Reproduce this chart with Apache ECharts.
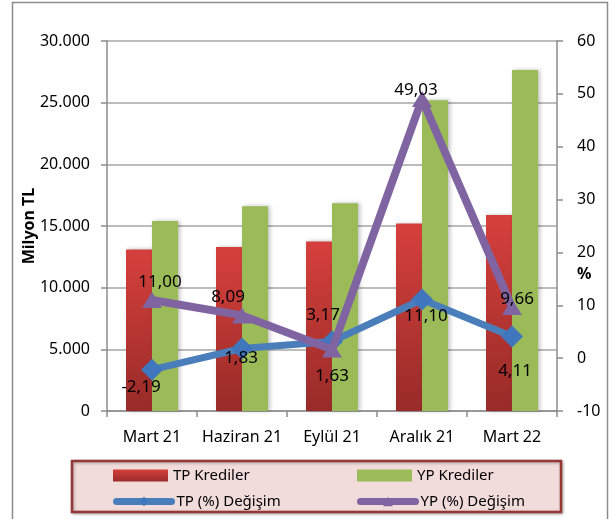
<!DOCTYPE html>
<html>
<head>
<meta charset="utf-8">
<script src="https://cdn.jsdelivr.net/npm/echarts@6/dist/echarts.min.js"></script>
<style>
  html, body { margin: 0; padding: 0; background: #fff; }
  #chart { width: 612px; height: 519px; }
</style>
</head>
<body>
<div id="chart"></div>
<script>
var categories = ["Mart 21", "Haziran 21", "Eylül 21", "Aralık 21", "Mart 22"];
var tpKrediler = [13100, 13300, 13750, 15200, 15900];
var ypKrediler = [15400, 16600, 16850, 25200, 27650];
var tpDegisim = [-2.19, 1.83, 3.17, 11.10, 4.11];
var ypDegisim = [11.00, 8.09, 1.63, 49.03, 9.66];
// label offsets (px) relative to each point
var tpOffsets = [[-11, 17], [-1, 10], [-9, -26], [4, 17], [3, 35]];
var ypOffsets = [[8, -18], [-14, -18], [0, 27], [-6, -9], [5, -8]];

var font = "'Noto Sans', sans-serif";

function fmtThousand(v) {
  return String(v).replace(/\B(?=(\d{3})+(?!\d))/g, ".");
}
function fmtPct(v) {
  return v.toFixed(2).replace(".", ",");
}
function lineData(vals, offs) {
  return vals.map(function (v, i) {
    return { value: v, label: { offset: offs[i] } };
  });
}
// one legend per entry, so the 2x2 layout matches
function legendItem(name, left, top, icon) {
  var item = { name: name };
  if (icon) item.icon = icon;
  else item.lineStyle = { width: 7, cap: "round" };
  return {
    left: left, top: top,
    itemWidth: 55, itemHeight: 12,
    padding: 0,
    textStyle: { fontSize: 15, color: "#000", fontFamily: font },
    data: [item],
    z: 5
  };
}

var myChart = echarts.init(document.getElementById("chart"));

var option = {
  animation: false,
  textStyle: { fontFamily: font },
  grid: { left: 107, right: 55, top: 41, bottom: 108 },
  graphic: [
    {
      type: "rect",
      shape: { x: 12.5, y: 2.5, width: 595, height: 540 },
      style: { fill: "none", stroke: "#8c8c8c", lineWidth: 1.5 },
      z: -1
    },
    {
      type: "rect",
      shape: { x: 72, y: 461, width: 489, height: 51 },
      style: { fill: "#f2dcdb", stroke: "#953735", lineWidth: 2.5,
        shadowBlur: 3, shadowColor: "rgba(0,0,0,0.3)", shadowOffsetX: 1, shadowOffsetY: 1 },
      z: 0
    },
    {
      type: "text",
      left: 577, top: 266,
      style: { text: "%", font: "bold 16px " + font, fill: "#000" }
    }
  ],
  legend: [
    legendItem("TP Krediler", 113, 468, "rect"),
    legendItem("TP (%) Değişim", 113, 494),
    legendItem("YP Krediler", 357, 468, "rect"),
    legendItem("YP (%) Değişim", 357, 494)
  ],
  xAxis: {
    type: "category",
    data: categories,
    axisLine: { lineStyle: { color: "#8c8c8c", width: 1.5 } },
    axisTick: { show: true, length: 6, lineStyle: { color: "#8c8c8c", width: 1.5 } },
    axisLabel: { color: "#000", fontSize: 16, margin: 18, interval: 0, fontFamily: font }
  },
  yAxis: [
    {
      type: "value",
      min: 0, max: 30000, interval: 5000,
      name: "Milyon TL",
      nameLocation: "middle",
      nameGap: 70,
      nameMoveOverlap: false,
      nameTextStyle: { fontWeight: "bold", fontSize: 16, color: "#000", fontFamily: font },
      axisLine: { show: true, lineStyle: { color: "#8c8c8c", width: 1.5 } },
      axisTick: { show: true, length: 6, lineStyle: { color: "#8c8c8c", width: 1.5 } },
      splitLine: { show: true, lineStyle: { color: "#a6a6a6", width: 1.5 } },
      axisLabel: { color: "#000", fontSize: 16, margin: 17, fontFamily: font, formatter: fmtThousand }
    },
    {
      type: "value",
      min: -10, max: 60, interval: 10,
      position: "right",
      axisLine: { show: true, lineStyle: { color: "#8c8c8c", width: 1.5 } },
      axisTick: { show: true, length: 6, lineStyle: { color: "#8c8c8c", width: 1.5 } },
      splitLine: { show: false },
      axisLabel: { color: "#000", fontSize: 16, margin: 20, fontFamily: font }
    }
  ],
  series: [
    {
      name: "TP Krediler",
      type: "bar",
      barWidth: 26,
      barGap: "0%",
      itemStyle: {
        color: new echarts.graphic.LinearGradient(0, 0, 0, 1, [
          { offset: 0, color: "#d6403c" },
          { offset: 1, color: "#982b28" }
        ]),
        shadowBlur: 4, shadowColor: "rgba(0,0,0,0.25)", shadowOffsetX: 2
      },
      data: tpKrediler
    },
    {
      name: "YP Krediler",
      type: "bar",
      barWidth: 26,
      itemStyle: {
        color: "#9bbb59",
        shadowBlur: 4, shadowColor: "rgba(0,0,0,0.25)", shadowOffsetX: 2
      },
      data: ypKrediler
    },
    {
      name: "TP (%) Değişim",
      type: "line",
      yAxisIndex: 1,
      symbol: "diamond",
      symbolSize: 22,
      lineStyle: { color: "#4a7ebb", width: 7 },
      itemStyle: { color: "#3f76bd" },
      label: {
        show: true, position: "inside", color: "#000", fontSize: 17, fontFamily: font,
        formatter: function (p) { return fmtPct(p.value); }
      },
      z: 3,
      data: lineData(tpDegisim, tpOffsets)
    },
    {
      name: "YP (%) Değişim",
      type: "line",
      yAxisIndex: 1,
      symbol: "triangle",
      symbolSize: [20, 16],
      lineStyle: { color: "#8064a2", width: 8 },
      itemStyle: { color: "#8064a2" },
      label: {
        show: true, position: "inside", color: "#000", fontSize: 17, fontFamily: font,
        formatter: function (p) { return fmtPct(p.value); }
      },
      z: 4,
      data: lineData(ypDegisim, ypOffsets)
    }
  ]
};
myChart.setOption(option);
window.onresize = function () {
  myChart.resize();
};
</script>
</body>
</html>
